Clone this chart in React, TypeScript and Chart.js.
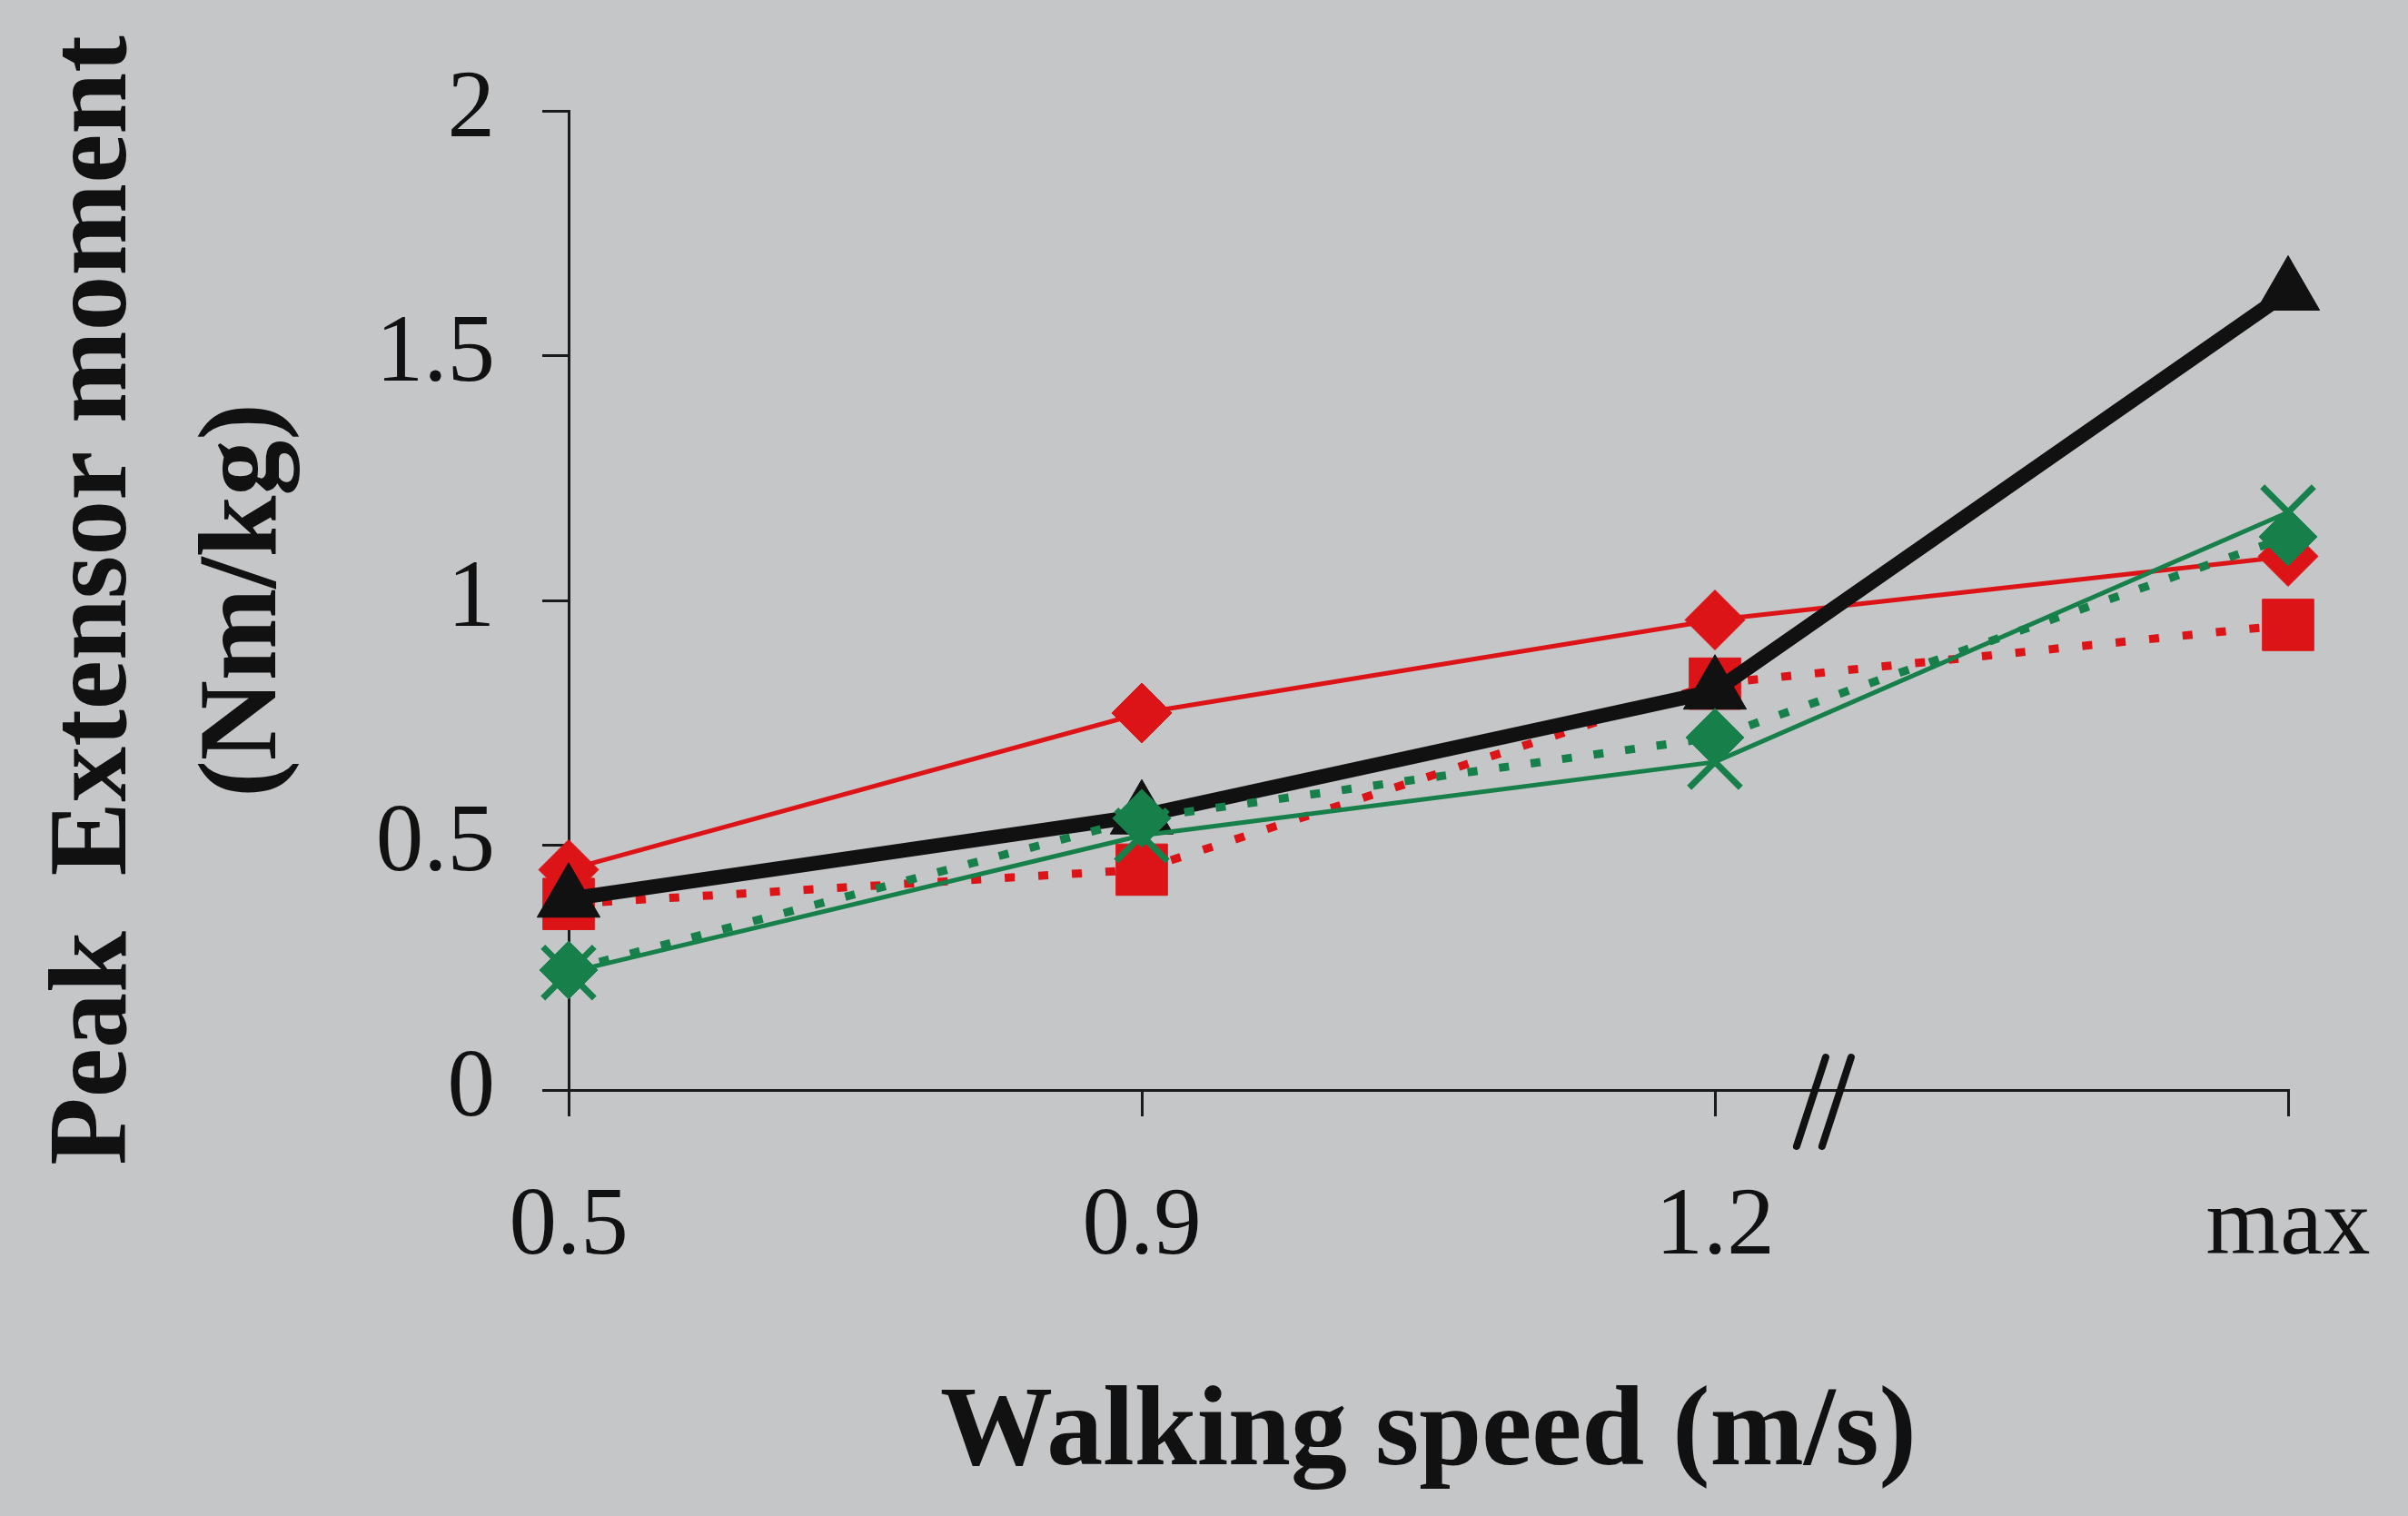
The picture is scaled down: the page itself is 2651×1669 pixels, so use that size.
import React, { useEffect, useRef } from "react";
import { Chart, registerables } from "chart.js";

Chart.register(...registerables);

const categories = ["0.5", "0.9", "1.2", "max"];
const redSolidDiamond = [0.45, 0.77, 0.96, 1.09];
const redDottedSquare = [0.38, 0.45, 0.83, 0.95];
const blackTriangle = [0.39, 0.56, 0.815, 1.63];
const greenDottedDiamond = [0.245, 0.555, 0.72, 1.13];
const greenSolidCross = [0.24, 0.52, 0.67, 1.18];
const yTicks = [0, 0.5, 1, 1.5, 2];

const RED = "#dc1418";
const GREEN = "#17804a";
const BLACK = "#111111";
const AXIS = "#1a1a1a";
const BG = "#c5c6c8";

const breakPlugin = {
  id: "axisBreak",
  afterDraw(chart: any) {
    const { ctx, scales } = chart;
    const x = scales.x;
    const y = scales.y;
    const p1 = x.getPixelForValue(2);
    const p2 = x.getPixelForValue(3);
    const cx = p1 + (p2 - p1) * 0.19;
    const cy = y.getPixelForValue(0);
    ctx.save();
    ctx.strokeStyle = "#111";
    ctx.lineWidth = 8;
    ctx.lineCap = "round";
    for (const dx of [-14, 14]) {
      ctx.beginPath();
      ctx.moveTo(cx + dx - 16, cy + 62);
      ctx.lineTo(cx + dx + 16, cy - 36);
      ctx.stroke();
    }
    ctx.restore();
  },
};

const bgPlugin = {
  id: "bg",
  beforeDraw(chart: any) {
    const { ctx, width, height } = chart;
    ctx.save();
    ctx.fillStyle = BG;
    ctx.fillRect(0, 0, width, height);
    ctx.restore();
  },
};

export default function App() {
  const ref = useRef<HTMLCanvasElement>(null);
  useEffect(() => {
    document.body.style.margin = "0";
    document.body.style.overflow = "hidden";
    const canvas = ref.current!;
    const chart = new Chart(canvas, {
      type: "line",
      data: {
        labels: categories,
        datasets: [
          {
            label: "green cross",
            data: greenSolidCross,
            borderColor: GREEN,
            backgroundColor: GREEN,
            borderWidth: 5,
            pointStyle: "crossRot",
            pointRadius: 40,
            pointBorderWidth: 7,
            pointBorderColor: GREEN,
            order: 1,
          },
          {
            label: "green dotted",
            data: greenDottedDiamond,
            borderColor: GREEN,
            backgroundColor: GREEN,
            borderWidth: 9,
            borderDash: [11, 24],
            pointStyle: "rectRot",
            pointRadius: 32,
            pointBorderWidth: 1,
            order: 2,
          },
          {
            label: "black",
            data: blackTriangle,
            borderColor: BLACK,
            backgroundColor: BLACK,
            borderWidth: 16,
            pointStyle: "triangle",
            pointRadius: 40,
            pointBorderWidth: 1,
            order: 3,
          },
          {
            label: "red solid",
            data: redSolidDiamond,
            borderColor: RED,
            backgroundColor: RED,
            borderWidth: 5,
            pointStyle: "rectRot",
            pointRadius: 33,
            pointBorderWidth: 1,
            order: 4,
          },
          {
            label: "red dotted",
            data: redDottedSquare,
            borderColor: RED,
            backgroundColor: RED,
            borderWidth: 9,
            borderDash: [11, 26],
            pointStyle: "rect",
            pointRadius: 40,
            pointBorderWidth: 1,
            order: 5,
          },
        ],
      },
      options: {
        responsive: false,
        animation: false,
        events: [],
        layout: { padding: { top: 122, right: 132, left: 0, bottom: 0 } },
        plugins: {
          legend: { display: false },
          tooltip: { enabled: false },
        },
        scales: {
          x: {
            type: "category",
            offset: false,
            grid: {
              display: true,
              drawOnChartArea: false,
              drawTicks: true,
              tickLength: 29,
              color: AXIS,
              lineWidth: 3,
            },
            border: { display: true, color: AXIS, width: 3 },
            ticks: {
              color: "#111",
              padding: 60,
              font: { family: "Liberation Serif", size: 105 },
              maxRotation: 0,
              autoSkip: false,
            },
            title: {
              display: true,
              text: "Walking speed (m/s)",
              color: "#111",
              font: { family: "Liberation Serif", size: 124, weight: "bold" },
              padding: { top: 0, bottom: 15 },
            },
            afterFit(scale: any) {
              scale.height = 469;
              scale.paddingLeft = 0;
              scale.paddingRight = 0;
            },
          },
          y: {
            type: "linear",
            min: 0,
            max: 2,
            afterBuildTicks(scale: any) {
              scale.ticks = yTicks.map((v) => ({ value: v }));
            },
            grid: {
              display: true,
              drawOnChartArea: false,
              drawTicks: true,
              tickLength: 29,
              color: AXIS,
              lineWidth: 3,
            },
            border: { display: true, color: AXIS, width: 3 },
            ticks: {
              color: "#111",
              padding: 52,
              font: { family: "Liberation Serif", size: 105 },
              callback: (v: any) => String(v),
            },
            title: {
              display: true,
              text: ["Peak  Extensor moment", "(Nm/kg)"],
              color: "#111",
              font: { family: "Liberation Serif", size: 122, weight: "bold", lineHeight: 1.35 },
              padding: { top: 24, bottom: 0 },
            },
            afterFit(scale: any) {
              scale.width = 626;
              scale.paddingTop = 0;
              scale.paddingBottom = 0;
            },
          },
        },
      },
      plugins: [bgPlugin, breakPlugin],
    });
    return () => chart.destroy();
  }, []);
  return (
    <div style={{ width: 2651, height: 1669 }}>
      <canvas ref={ref} width={2651} height={1669} style={{ display: "block" }} />
    </div>
  );
}
